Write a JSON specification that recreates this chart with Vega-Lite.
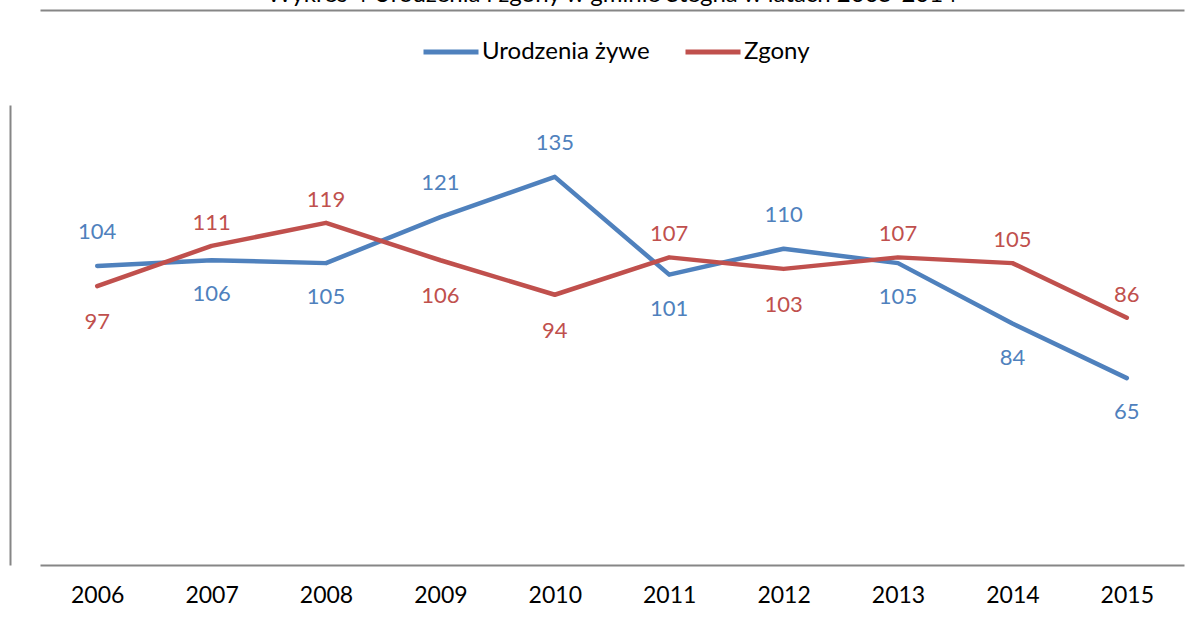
{
  "$schema": "https://vega.github.io/schema/vega-lite/v6.json",
  "autosize": "none",
  "width": 1144,
  "height": 460,
  "padding": {"left": 40, "top": 105, "right": 15, "bottom": 56},
  "background": "white",
  "config": {"view": {"stroke": null}, "font": "Lato"},
  "title": {
    "text": "Wykres 4 Urodzenia i zgony w gminie Stegna w latach 2005-2014",
    "font": "Lato", "fontSize": 24, "fontWeight": "normal", "color": "#000000",
    "anchor": "middle", "frame": "group", "offset": 0, "dy": 16, "baseline": "alphabetic"
  },
  "data": {"values": [
    {"rok": "2006", "Urodzenia żywe": 104, "Zgony": 97},
    {"rok": "2007", "Urodzenia żywe": 106, "Zgony": 111},
    {"rok": "2008", "Urodzenia żywe": 105, "Zgony": 119},
    {"rok": "2009", "Urodzenia żywe": 121, "Zgony": 106},
    {"rok": "2010", "Urodzenia żywe": 135, "Zgony": 94},
    {"rok": "2011", "Urodzenia żywe": 101, "Zgony": 107},
    {"rok": "2012", "Urodzenia żywe": 110, "Zgony": 103},
    {"rok": "2013", "Urodzenia żywe": 105, "Zgony": 107},
    {"rok": "2014", "Urodzenia żywe": 84, "Zgony": 105},
    {"rok": "2015", "Urodzenia żywe": 65, "Zgony": 86}
  ]},
  "resolve": {"axis": {"x": "independent"}},
  "layer": [
    {
      "transform": [{"fold": ["Urodzenia żywe", "Zgony"], "as": ["seria", "wartosc"]}],
      "mark": {"type": "line", "strokeWidth": 4.5, "strokeCap": "round", "strokeJoin": "round"},
      "encoding": {
        "x": {"field": "rok", "type": "ordinal", "title": null,
          "axis": {"orient": "bottom", "labelAngle": 0, "domainColor": "#868686", "domainWidth": 2,
            "ticks": false, "labelPadding": 19, "labelFont": "Lato", "labelFontSize": 23, "labelColor": "#000000", "grid": false}},
        "y": {"field": "wartosc", "type": "quantitative", "scale": {"domain": [0, 160]}, "title": null,
          "axis": {"orient": "left", "offset": 30, "labels": false, "ticks": false, "grid": false, "domainColor": "#868686", "domainWidth": 2}},
        "color": {"field": "seria", "type": "nominal",
          "scale": {"domain": ["Urodzenia żywe", "Zgony"], "range": ["#4F81BD", "#C0504D"]},
          "legend": {"title": null, "orient": "none", "legendX": 381, "legendY": -83, "direction": "horizontal", "symbolType": "stroke",
            "symbolSize": 3025, "symbolStrokeWidth": 5, "labelFont": "Lato", "labelFontSize": 24, "labelColor": "#000000",
            "labelLimit": 400, "columnPadding": 25, "labelOffset": 1}}
      }
    },
    {
      "transform": [{"filter": "datum['Urodzenia żywe'] > datum['Zgony']"}],
      "mark": {"type": "text", "dy": -34, "fontSize": 22, "font": "Lato", "color": "#4F81BD"},
      "encoding": {
        "x": {"field": "rok", "type": "ordinal", "title": null, "axis": {"orient": "top", "offset": 95, "labels": false, "ticks": false, "grid": false, "domainColor": "#868686", "domainWidth": 2, "title": null}},
        "y": {"field": "Urodzenia żywe", "type": "quantitative"},
        "text": {"field": "Urodzenia żywe", "type": "quantitative"}
      }
    },
    {
      "transform": [{"filter": "datum['Urodzenia żywe'] < datum['Zgony']"}],
      "mark": {"type": "text", "dy": 34, "fontSize": 22, "font": "Lato", "color": "#4F81BD"},
      "encoding": {
        "x": {"field": "rok", "type": "ordinal", "axis": null},
        "y": {"field": "Urodzenia żywe", "type": "quantitative"},
        "text": {"field": "Urodzenia żywe", "type": "quantitative"}
      }
    },
    {
      "transform": [{"filter": "datum['Zgony'] > datum['Urodzenia żywe']"}],
      "mark": {"type": "text", "dy": -23, "fontSize": 22, "font": "Lato", "color": "#C0504D"},
      "encoding": {
        "x": {"field": "rok", "type": "ordinal", "axis": null},
        "y": {"field": "Zgony", "type": "quantitative"},
        "text": {"field": "Zgony", "type": "quantitative"}
      }
    },
    {
      "transform": [{"filter": "datum['Zgony'] < datum['Urodzenia żywe']"}],
      "mark": {"type": "text", "dy": 36, "fontSize": 22, "font": "Lato", "color": "#C0504D"},
      "encoding": {
        "x": {"field": "rok", "type": "ordinal", "axis": null},
        "y": {"field": "Zgony", "type": "quantitative"},
        "text": {"field": "Zgony", "type": "quantitative"}
      }
    }
  ]
}
